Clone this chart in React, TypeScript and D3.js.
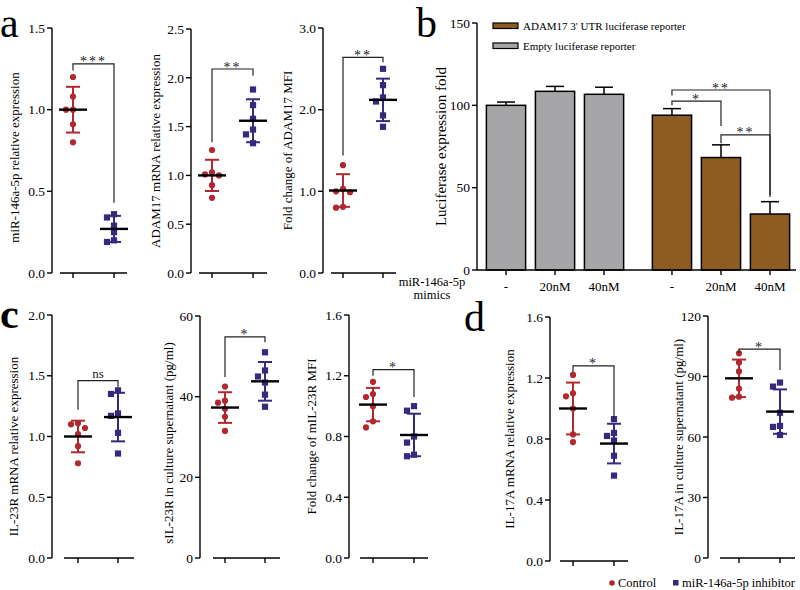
import React from "react";
import * as d3 from "d3";

const FONT = "'Liberation Serif', 'Times New Roman', serif";
const RED = "#b2282e";
const BLUE = "#352a7d";
const GRAY = "#a6a6a9";
const BROWN = "#8d5c20";

const groups = ["Control", "miR-146a-5p inhibitor"];

// a: qPCR / MFI dot plots (points, mean, SD, bracket [level, leftEnd, rightEnd])
const a1Ctrl = [1.2, 1.08, 1.0, 1.0, 0.91, 0.8];
const a1Inh = [0.36, 0.34, 0.29, 0.25, 0.2, 0.19];
const a1Mean = [1.0, 0.27];
const a1Sd = [0.14, 0.08];
const a1Sig = [1.28, 1.24, 0.43];
const a1Ticks = [0, 0.5, 1.0, 1.5];

const a2Ctrl = [1.26, 1.03, 1.01, 1.0, 0.9, 0.77];
const a2Inh = [1.88, 1.72, 1.58, 1.47, 1.42, 1.33];
const a2Mean = [1.0, 1.56];
const a2Sd = [0.16, 0.22];
const a2Sig = [2.09, 1.34, 2.02];
const a2Ticks = [0, 0.5, 1.0, 1.5, 2.0, 2.5];

const a3Ctrl = [1.32, 1.03, 1.0, 0.99, 0.81, 0.8];
const a3Inh = [2.5, 2.3, 2.15, 2.1, 1.93, 1.79];
const a3Mean = [1.01, 2.12];
const a3Sd = [0.2, 0.26];
const a3Sig = [2.64, 1.44, 2.58];
const a3Ticks = [0, 1.0, 2.0, 3.0];

// b: luciferase reporter
const reporters = ["Empty luciferase reporter", "ADAM17 3' UTR luciferase reporter"];
const doses = ["-", "20nM", "40nM"];
const emptyFold = [100, 108.5, 106.7];
const emptyErr = [2, 3, 4.3];
const adamFold = [94, 68.3, 34];
const adamErr = [4, 7.7, 7.5];
const bTicks = [0, 50, 100, 150];
// [fromDose, toDose, level, leftEnd, rightEnd, label] within ADAM17 group
const bSig: [number, number, number, number, number, string][] = [
  [0, 2, 109.3, 106, 45.5, "**"],
  [0, 1, 102.6, 100, 87.4, "*"],
  [1, 2, 82, 77, 44.3, "**"],
];

// c: IL-23R
const c1Ctrl = [1.11, 1.1, 1.07, 1.02, 0.92, 0.78];
const c1Inh = [1.38, 1.35, 1.19, 1.17, 1.03, 0.86];
const c1Mean = [1.0, 1.16];
const c1Sd = [0.13, 0.2];
const c1Sig = [1.46, 1.22, 1.41];
const c1Ticks = [0, 0.5, 1.0, 1.5, 2.0];

const c2Ctrl = [42.5, 39, 38.5, 37, 35, 31.5];
const c2Inh = [51, 46.5, 45, 43.5, 40.5, 37.5];
const c2Mean = [37.3, 43.8];
const c2Sd = [3.8, 4.8];
const c2Sig = [54.8, 44.9, 53.5];
const c2Ticks = [0, 20, 40, 60];

const c3Ctrl = [1.16, 1.08, 1.06, 1.0, 0.9, 0.86];
const c3Inh = [1.0, 0.97, 0.8, 0.76, 0.68, 0.67];
const c3Mean = [1.01, 0.81];
const c3Sd = [0.11, 0.14];
const c3Sig = [1.24, 1.2, 1.06];
const c3Ticks = [0, 0.4, 0.8, 1.2, 1.6];

// d: IL-17A
const d1Ctrl = [1.22, 1.1, 1.08, 1.0, 0.83, 0.78];
const d1Inh = [0.93, 0.84, 0.82, 0.79, 0.69, 0.56];
const d1Mean = [1.0, 0.77];
const d1Sd = [0.17, 0.13];
const d1Sig = [1.28, 1.24, 0.94];
const d1Ticks = [0, 0.4, 0.8, 1.2, 1.6];

const d2Ctrl = [101.5, 97, 92.5, 84, 80, 79.5];
const d2Inh = [87, 85, 72, 65.5, 65, 61];
const d2Mean = [89.1, 72.6];
const d2Sd = [9.3, 11];
const d2Sig = [103.6, 101.6, 93.2];
const d2Ticks = [0, 30, 60, 90, 120];

function swarm(vals: number[], y: (v: number) => number, cx: number) {
  const placed: { x: number; y: number }[] = [];
  const offs = [0, -7, 7, -14, 14];
  return vals.map((v) => {
    const py = y(v);
    let px = cx;
    for (const o of offs) {
      if (placed.every((p) => Math.abs(p.y - py) >= 6.5 || Math.abs(p.x - (cx + o)) >= 6.5)) {
        px = cx + o;
        break;
      }
    }
    placed.push({ x: px, y: py });
    return { x: px, y: py };
  });
}

function Sig({ x0, x1, yl, yL, yR, label }: any) {
  const isNs = label === "ns";
  return (
    <g>
      <path d={`M${x0},${yL}V${yl}H${x1}V${yR}`} fill="none" stroke="#222" strokeWidth={1.2} />
      <text x={(x0 + x1) / 2} y={yl + (isNs ? -3 : 2.5)} textAnchor="middle" fontSize={isNs ? 13 : 14}
        letterSpacing={isNs ? 0 : 2} fill="#222">{label}</text>
    </g>
  );
}

function DotPlot(props: any) {
  const { axisX, top, bottom, xStart, xEnd, ticks, fmt, label, labelX, labelDy = 0,
    ctrl, inh, mean, sd, sig, mark, gx } = props;
  const y = d3.scaleLinear().domain([ticks[0], ticks[ticks.length - 1]]).range([bottom, top]);
  const x = d3.scalePoint<string>().domain(groups).range(gx);
  const f = d3.format(fmt);
  const sets = [ctrl, inh];
  return (
    <g>
      <line x1={axisX} x2={axisX} y1={top} y2={bottom} stroke="#000" strokeWidth={1.4} />
      {ticks.map((t: number) => (
        <g key={t}>
          <line x1={axisX - 5} x2={axisX} y1={y(t)} y2={y(t)} stroke="#000" strokeWidth={1.4} />
          <text x={axisX - 7} y={y(t)} dy="0.35em" textAnchor="end" fontSize={13.5}>{f(t)}</text>
        </g>
      ))}
      <line x1={xStart} x2={xEnd} y1={bottom} y2={bottom} stroke="#000" strokeWidth={1.4} />
      {groups.map((g) => (
        <line key={g} x1={x(g)} x2={x(g)} y1={bottom} y2={bottom + 5} stroke="#000" strokeWidth={1.4} />
      ))}
      <text transform={`translate(${labelX},${(top + bottom) / 2 + labelDy}) rotate(-90)`}
        textAnchor="middle" dy="0.35em" fontSize={13}>{label}</text>
      {groups.map((g, gi) => {
        const cx = x(g) as number;
        const col = gi === 0 ? RED : BLUE;
        const pts = swarm(sets[gi], y, cx);
        return (
          <g key={g}>
            {pts.map((p, i) =>
              gi === 0 ? (
                <circle key={i} cx={p.x} cy={p.y} r={3.1} fill={col} />
              ) : (
                <rect key={i} x={p.x - 3.1} y={p.y - 3.1} width={6.2} height={6.2} fill={col} />
              )
            )}
            <line x1={cx} x2={cx} y1={y(mean[gi] - sd[gi])} y2={y(mean[gi] + sd[gi])} stroke={col} strokeWidth={2} />
            <line x1={cx - 7} x2={cx + 7} y1={y(mean[gi] + sd[gi])} y2={y(mean[gi] + sd[gi])} stroke={col} strokeWidth={2} />
            <line x1={cx - 7} x2={cx + 7} y1={y(mean[gi] - sd[gi])} y2={y(mean[gi] - sd[gi])} stroke={col} strokeWidth={2} />
            <line x1={cx - 14} x2={cx + 14} y1={y(mean[gi])} y2={y(mean[gi])} stroke="#000" strokeWidth={2.4} />
          </g>
        );
      })}
      <Sig x0={x(groups[0])} x1={x(groups[1])} yl={y(sig[0])} yL={y(sig[1])} yR={y(sig[2])} label={mark} />
    </g>
  );
}

function BarPanel() {
  const y = d3.scaleLinear().domain([0, 150]).range([270, 23]);
  const x0 = d3.scaleBand<string>().domain(reporters).range([481.5, 794.5]).paddingInner(0.114);
  const x1 = d3.scaleBand<string>().domain(doses).range([0, x0.bandwidth()]).paddingInner(0.2).paddingOuter(0.1);
  const series = [
    { key: reporters[0], vals: emptyFold, err: emptyErr, color: GRAY },
    { key: reporters[1], vals: adamFold, err: adamErr, color: BROWN },
  ];
  const cx = (r: string, d: string) => (x0(r) as number) + (x1(d) as number) + x1.bandwidth() / 2;
  return (
    <g>
      {series.map((s) =>
        doses.map((d, i) => {
          const c = cx(s.key, d);
          const top = y(s.vals[i]);
          const et = y(s.vals[i] + s.err[i]);
          return (
            <g key={s.key + d}>
              <line x1={c} x2={c} y1={top} y2={et} stroke="#000" strokeWidth={1.5} />
              <line x1={c - 9} x2={c + 9} y1={et} y2={et} stroke="#000" strokeWidth={1.5} />
              <rect x={(x0(s.key) as number) + (x1(d) as number)} y={top} width={x1.bandwidth()}
                height={y(0) - top} fill={s.color} stroke="#000" strokeWidth={1.5} />
              <line x1={c} x2={c} y1={y(0)} y2={y(0) + 5} stroke="#000" strokeWidth={1.4} />
              <text x={c} y={291} textAnchor="middle" fontSize={13}>{d}</text>
            </g>
          );
        })
      )}
      <line x1={477} x2={477} y1={y(150)} y2={y(0)} stroke="#000" strokeWidth={1.4} />
      <line x1={477} x2={796} y1={y(0)} y2={y(0)} stroke="#000" strokeWidth={1.4} />
      {bTicks.map((t) => (
        <g key={t}>
          <line x1={472} x2={477} y1={y(t)} y2={y(t)} stroke="#000" strokeWidth={1.4} />
          <text x={470} y={y(t)} dy="0.35em" textAnchor="end" fontSize={13.5}>{t}</text>
        </g>
      ))}
      <text transform={`translate(441,${(y(0) + y(150)) / 2}) rotate(-90)`} textAnchor="middle" dy="0.35em"
        fontSize={15}>Luciferase expression fold</text>
      <text x={432} y={286} textAnchor="middle" fontSize={12.5}>miR-146a-5p</text>
      <text x={432} y={299} textAnchor="middle" fontSize={12.5}>mimics</text>
      {[reporters[1], reporters[0]].map((r, i) => (
        <g key={r}>
          <rect x={493} y={23 + i * 20} width={25} height={5.5} fill={i === 0 ? BROWN : GRAY} stroke="#000" strokeWidth={1.2} />
          <text x={523} y={30 + i * 20} fontSize={11}>{r}</text>
        </g>
      ))}
      {bSig.map(([a, b, lv, le, re, lab], i) => (
        <Sig key={i} x0={cx(reporters[1], doses[a])} x1={cx(reporters[1], doses[b])}
          yl={y(lv)} yL={y(le)} yR={y(re)} label={lab} />
      ))}
    </g>
  );
}

export default function App() {
  return (
    <svg width={800} height={590} style={{ position: "absolute", left: 0, top: 0, background: "#fff" }}
      fontFamily={FONT} fill="#000">
      <text x={0} y={37} fontSize={42}>a</text>
      <text x={416} y={37} fontSize={42}>b</text>
      <text x={0} y={328} fontSize={42} fontWeight="bold">c</text>
      <text x={464} y={331} fontSize={42}>d</text>

      <DotPlot axisX={52} top={28} bottom={273} xStart={60} xEnd={127} ticks={a1Ticks} fmt=".1f"
        label="miR-146a-5p relative expression" labelX={14} labelDy={7} ctrl={a1Ctrl} inh={a1Inh}
        mean={a1Mean} sd={a1Sd} sig={a1Sig} mark="***" gx={[73, 114]} />
      <DotPlot axisX={191} top={29} bottom={273} xStart={199} xEnd={267} ticks={a2Ticks} fmt=".1f"
        label="ADAM17 mRNA relative expression" labelX={155} ctrl={a2Ctrl} inh={a2Inh}
        mean={a2Mean} sd={a2Sd} sig={a2Sig} mark="**" gx={[212, 253]} />
      <DotPlot axisX={323} top={28} bottom={273} xStart={331} xEnd={396} ticks={a3Ticks} fmt=".1f"
        label="Fold change of ADAM17 MFI" labelX={287} ctrl={a3Ctrl} inh={a3Inh}
        mean={a3Mean} sd={a3Sd} sig={a3Sig} mark="**" gx={[343, 383]} />

      <BarPanel />

      <DotPlot axisX={52} top={315} bottom={558} xStart={64} xEnd={134} ticks={c1Ticks} fmt=".1f"
        label="IL-23R mRNA relative expression" labelX={13} labelDy={10} ctrl={c1Ctrl} inh={c1Inh}
        mean={c1Mean} sd={c1Sd} sig={c1Sig} mark="ns" gx={[78, 118]} />
      <DotPlot axisX={200} top={316} bottom={558} xStart={213} xEnd={280} ticks={c2Ticks} fmt="d"
        label="sIL-23R in culture supernatant (pg/ml)" labelX={168} labelDy={6} ctrl={c2Ctrl} inh={c2Inh}
        mean={c2Mean} sd={c2Sd} sig={c2Sig} mark="*" gx={[225, 265]} />
      <DotPlot axisX={349} top={315} bottom={558} xStart={360} xEnd={428} ticks={c3Ticks} fmt=".1f"
        label="Fold change of  mIL-23R MFI" labelX={311} ctrl={c3Ctrl} inh={c3Inh}
        mean={c3Mean} sd={c3Sd} sig={c3Sig} mark="*" gx={[373, 414]} />
      <DotPlot axisX={550} top={317} bottom={561} xStart={560} xEnd={628} ticks={d1Ticks} fmt=".1f"
        label="IL-17A mRNA relative expression" labelX={509} ctrl={d1Ctrl} inh={d1Inh}
        mean={d1Mean} sd={d1Sd} sig={d1Sig} mark="*" gx={[573, 614]} />
      <DotPlot axisX={708} top={316} bottom={558} xStart={720} xEnd={795} ticks={d2Ticks} fmt="d"
        label="IL-17A in culture supernatant (pg/ml)" labelX={678} ctrl={d2Ctrl} inh={d2Inh}
        mean={d2Mean} sd={d2Sd} sig={d2Sig} mark="*" gx={[739, 780]} />

      <circle cx={612} cy={583} r={2.8} fill={RED} />
      <text x={618} y={587} fontSize={12.5}>{groups[0]}</text>
      <rect x={673} y={580} width={5.5} height={5.5} fill={BLUE} />
      <text x={682} y={587} fontSize={12.5}>{groups[1]}</text>
    </svg>
  );
}
